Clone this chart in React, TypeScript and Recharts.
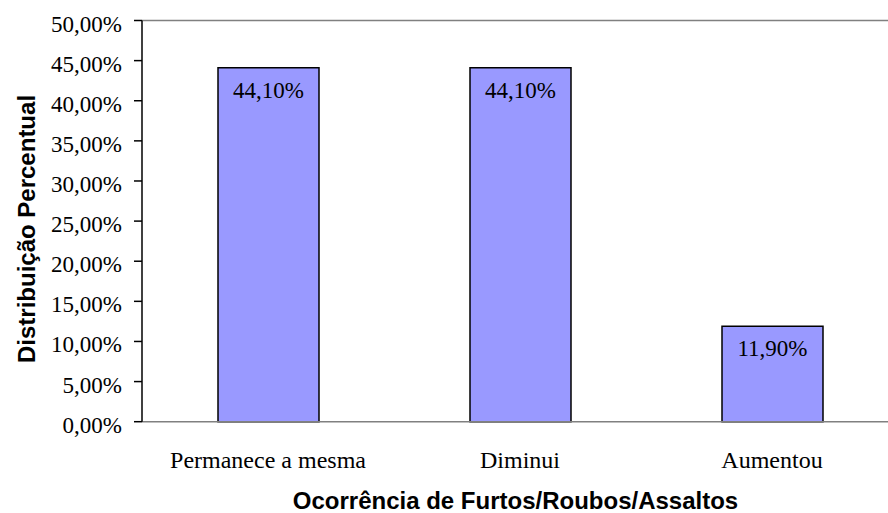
import React from 'react';
import { BarChart, Bar, XAxis, YAxis, ReferenceLine, LabelList, Label } from 'recharts';

const categories = ['Permanece a mesma', 'Diminui', 'Aumentou'];
const values = [44.1, 44.1, 11.9];
const yTicks = [0, 5, 10, 15, 20, 25, 30, 35, 40, 45, 50];
const xTitle = 'Ocorrência de Furtos/Roubos/Assaltos';
const yTitle = 'Distribuição Percentual';

const data = categories.map((c, i) => ({ name: c, value: values[i] }));

const fmt = (v: number) => v.toFixed(2).replace('.', ',') + '%';
const SERIF = '"Liberation Serif", "Times New Roman", serif';
const SANS = '"Liberation Sans", Arial, sans-serif';

const YTick = (props: any) => {
  const { x, y, payload } = props;
  return (
    <text x={x} y={y + 11} textAnchor="end" fontFamily={SERIF} fontSize={23} fill="#000">
      {fmt(payload.value)}
    </text>
  );
};

const XTick = (props: any) => {
  const { x, y, payload } = props;
  return (
    <text x={x} y={y + 46} textAnchor="middle" fontFamily={SERIF} fontSize={24} fill="#000">
      {payload.value}
    </text>
  );
};

const BarLabel = (props: any) => {
  const { x, y, width, value } = props;
  return (
    <text x={x + width / 2} y={y + 30} textAnchor="middle" fontFamily={SERIF} fontSize={23} fill="#000">
      {fmt(value)}
    </text>
  );
};

export default function App() {
  return (
    <div style={{ position: 'fixed', left: 0, top: 0, width: 888, height: 513, overflow: 'hidden', background: '#fff' }}>
      <BarChart
        width={900}
        height={513}
        data={data}
        margin={{ top: 20.5, right: 2, bottom: 61.3, left: 0 }}
      >
        <ReferenceLine y={50} stroke="#808080" strokeWidth={1.5} ifOverflow="visible" />
        <XAxis
          dataKey="name"
          height={30}
          tickLine={false}
          tickSize={0}
          tickMargin={0}
          axisLine={{ stroke: '#808080', strokeWidth: 1.5 }}
          tick={<XTick />}
          interval={0}
        >
          <Label
            content={() => (
              <text x={515.5} y={509} textAnchor="middle" fontFamily={SANS} fontWeight="bold" fontSize={24} fill="#000">
                {xTitle}
              </text>
            )}
          />
        </XAxis>
        <YAxis
          width={142}
          domain={[0, 50]}
          ticks={yTicks}
          interval={0}
          tickSize={8}
          tickMargin={12}
          axisLine={{ stroke: '#000', strokeWidth: 1.5 }}
          tickLine={{ stroke: '#000', strokeWidth: 1.5 }}
          tick={<YTick />}
        >
          <Label
            content={() => (
              <text
                x={35}
                y={229}
                transform="rotate(-90 35 229)"
                textAnchor="middle"
                fontFamily={SANS}
                fontWeight="bold"
                fontSize={24}
                fill="#000"
              >
                {yTitle}
              </text>
            )}
          />
        </YAxis>
        <Bar dataKey="value" fill="#9999FF" stroke="#000" strokeWidth={1.5} barSize={101} isAnimationActive={false}>
          <LabelList dataKey="value" content={<BarLabel />} />
        </Bar>
      </BarChart>
    </div>
  );
}
